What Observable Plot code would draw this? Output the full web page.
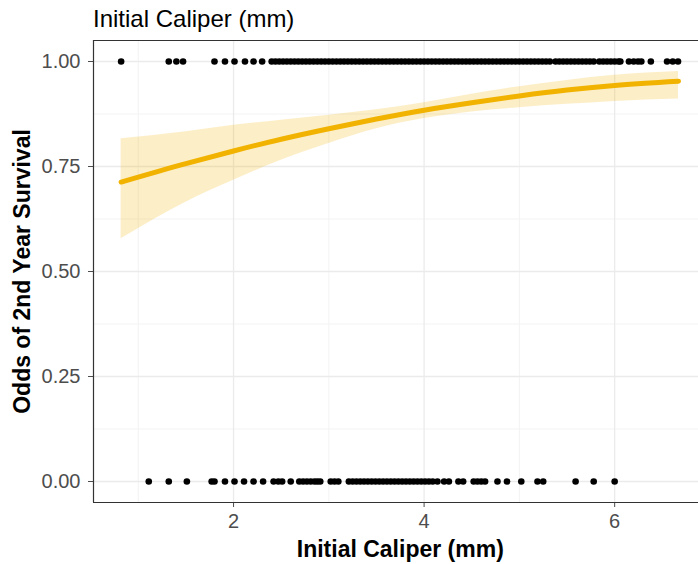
<!DOCTYPE html>
<html><head><meta charset="utf-8">
<script src="https://cdn.jsdelivr.net/npm/d3@7"></script>
<script src="https://cdn.jsdelivr.net/npm/@observablehq/plot@0.6"></script>
<style>
body{margin:0;background:#fff;overflow:hidden;}
#title{height:36px;box-sizing:border-box;padding-left:93px;padding-top:5px;font:24px "Liberation Sans",Arial,sans-serif;color:#000;line-height:27px;white-space:nowrap;}
</style></head><body>
<div id="title">Initial Caliper (mm)</div>
<div id="chart"></div>
<script>
// Caliper (mm) of seedlings that survived (outcome 1)
const survivedX = [0.82, 1.32, 1.40, 1.47, 1.80, 1.91, 2.01, 2.12, 2.21, 2.30,
  2.40, 2.44, 2.48, 2.52, 2.56, 2.60, 2.64, 2.68, 2.72, 2.76, 2.80, 2.84, 2.88, 2.92, 2.96,
  3.00, 3.04, 3.08, 3.12, 3.16, 3.20, 3.24, 3.28, 3.32, 3.36, 3.40, 3.44, 3.48, 3.52, 3.56,
  3.60, 3.64, 3.68, 3.72, 3.76, 3.80, 3.84, 3.88, 3.92, 3.96, 4.00, 4.04, 4.08, 4.12, 4.16,
  4.20, 4.24, 4.28, 4.32, 4.36, 4.40, 4.44, 4.48, 4.52, 4.56, 4.60, 4.64, 4.68, 4.72, 4.76,
  4.80, 4.84, 4.88, 4.92, 4.96, 5.00, 5.04, 5.08, 5.12, 5.16, 5.20, 5.24, 5.28, 5.32, 5.38,
  5.42, 5.46, 5.50, 5.54, 5.58, 5.62, 5.66, 5.70, 5.74, 5.78, 5.84, 5.88, 5.92, 5.96, 6.00,
  6.04, 6.06, 6.15, 6.20, 6.245, 6.28, 6.38, 6.55, 6.61, 6.665];
// Caliper (mm) of seedlings that died (outcome 0)
const diedX = [1.11, 1.32, 1.51, 1.77, 1.80, 1.91, 2.01, 2.11, 2.21, 2.31,
  2.42, 2.47, 2.51, 2.60, 2.69, 2.73, 2.77, 2.81, 2.85, 2.88, 2.91, 3.02, 3.06, 3.10,
  3.21, 3.25, 3.29, 3.33, 3.37, 3.41, 3.45, 3.49, 3.53, 3.57, 3.61, 3.65, 3.69, 3.73,
  3.77, 3.81, 3.85, 3.89, 3.93, 3.97, 4.01, 4.05, 4.09, 4.14,
  4.21, 4.26, 4.36, 4.41, 4.52, 4.56, 4.60, 4.64, 4.77, 4.87, 5.02, 5.19, 5.25,
  5.59, 5.78, 6.00];
// Fitted logistic curve and confidence band
const fitX  = [0.82, 1.5, 2.0, 2.5, 3.0, 3.5, 4.0, 4.5, 5.0, 5.5, 6.0, 6.67];
const fitY  = [0.713, 0.757, 0.787, 0.815, 0.840, 0.863, 0.884, 0.902, 0.918, 0.932, 0.943, 0.953];
const fitLo = [0.578, 0.665, 0.717, 0.765, 0.805, 0.840, 0.864, 0.880, 0.890, 0.898, 0.905, 0.911];
const fitHi = [0.816, 0.833, 0.848, 0.860, 0.872, 0.885, 0.902, 0.922, 0.940, 0.955, 0.967, 0.976];
const xTicks = [2, 4, 6];
const xMinor = [1, 3, 5];
const yTicks = [0, 0.25, 0.5, 0.75, 1];
const yMinor = [0.125, 0.375, 0.625, 0.875];

const points = [
  ...survivedX.map(x => ({x, y: 1})),
  ...diedX.map(x => ({x, y: 0}))
];
const fit = fitX.map((x, i) => ({x, fit: fitY[i], lo: fitLo[i], hi: fitHi[i]}));
const xDom = [0.53, 6.88], yDom = [-0.05, 1.05];
const orange = "#F1B300";

const chart = Plot.plot({
  width: 698, height: 528,
  marginTop: 4, marginBottom: 62, marginLeft: 93, marginRight: 0,
  style: {fontFamily: '"Liberation Sans", Arial, sans-serif', fontSize: "20px", color: "#4D4D4D", background: "#fff"},
  x: {domain: xDom, ticks: xTicks, tickFormat: d => String(d), tickSize: 5, tickPadding: 6, label: null},
  y: {domain: yDom, ticks: yTicks, tickFormat: d3.format(".2f"), tickSize: 5, tickPadding: 8, label: null},
  marks: [
    Plot.ruleX(xMinor, {stroke: "#F3F3F3", strokeWidth: 1}),
    Plot.ruleY(yMinor, {stroke: "#F3F3F3", strokeWidth: 1}),
    Plot.ruleX(xTicks, {stroke: "#EBEBEB", strokeWidth: 1.3}),
    Plot.ruleY(yTicks, {stroke: "#EBEBEB", strokeWidth: 1.3}),
    Plot.areaY(fit, {x: "x", y1: "lo", y2: "hi", fill: orange, fillOpacity: 0.22, curve: "monotone-x"}),
    Plot.line(fit, {x: "x", y: "fit", stroke: orange, strokeWidth: 5, curve: "monotone-x"}),
    Plot.dot(points, {x: "x", y: "y", r: 3.3, fill: "#000", stroke: null}),
    Plot.ruleX([xDom[0]], {stroke: "#333", strokeWidth: 1.2}),
    Plot.ruleY(yDom, {stroke: "#333", strokeWidth: 1.2}),
    Plot.text([{x: 3.75, t: "Initial Caliper (mm)"}], {x: "x", text: "t", frameAnchor: "bottom", textAnchor: "middle", lineAnchor: "middle", dy: 47, fontSize: 23, fontWeight: "bold", fill: "#000"}),
    Plot.text([{t: "Odds of 2nd Year Survival"}], {text: "t", frameAnchor: "left", textAnchor: "middle", lineAnchor: "middle", dx: -71, rotate: -90, fontSize: 23, fontWeight: "bold", fill: "#000"})
  ]
});
document.getElementById("chart").appendChild(chart);
</script>
</body></html>
